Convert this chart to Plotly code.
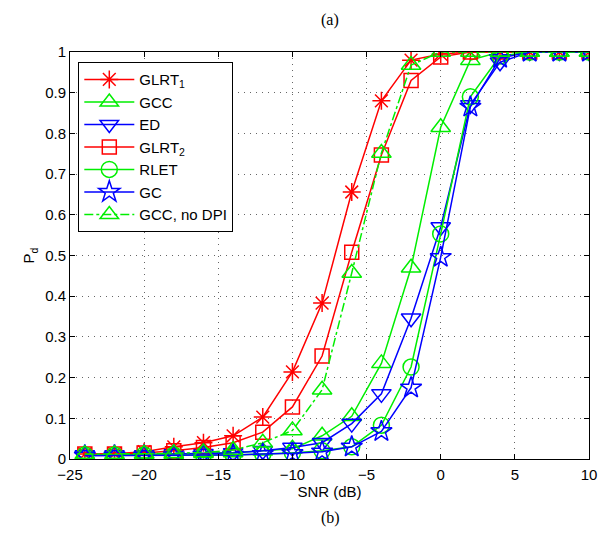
import plotly.graph_objects as go

snr = [-24, -22, -20, -18, -16, -14, -12, -10, -8, -6, -4, -2, 0, 2, 4, 6, 8, 10]

glrt1 = [0.012, 0.013, 0.018, 0.03, 0.04, 0.057, 0.103, 0.214, 0.383, 0.656, 0.88, 0.98, 0.995, 1, 1, 1, 1, 1]
gcc = [0.01, 0.01, 0.012, 0.012, 0.014, 0.016, 0.02, 0.025, 0.057, 0.105, 0.235, 0.47, 0.815, 0.98, 1, 1, 1, 1]
ed = [0.01, 0.01, 0.01, 0.012, 0.013, 0.015, 0.02, 0.028, 0.04, 0.087, 0.16, 0.346, 0.57, 0.87, 0.975, 1, 1, 1]
glrt2 = [0.012, 0.012, 0.015, 0.02, 0.028, 0.04, 0.066, 0.128, 0.253, 0.508, 0.747, 0.93, 0.988, 1, 1, 1, 1, 1]
rlet = [0.01, 0.01, 0.01, 0.01, 0.01, 0.01, 0.012, 0.015, 0.02, 0.03, 0.083, 0.226, 0.553, 0.89, 0.99, 1, 1, 1]
gc = [0.008, 0.008, 0.008, 0.009, 0.01, 0.01, 0.012, 0.014, 0.018, 0.03, 0.068, 0.175, 0.496, 0.865, 0.985, 1, 1, 1]
gcc_nodpi = [0.012, 0.012, 0.013, 0.014, 0.016, 0.022, 0.04, 0.07, 0.17, 0.457, 0.752, 0.968, 1, 1, 1, 1, 1, 1]

names = ["GLRT<sub>1</sub>", "GCC", "ED", "GLRT<sub>2</sub>", "RLET", "GC", "GCC, no DPI"]
series = [glrt1, gcc, ed, glrt2, rlet, gc, gcc_nodpi]
colors = ["#ff0000", "#00ee00", "#0000ff", "#ff0000", "#00ee00", "#0000ff", "#00ee00"]
symbols = ["asterisk-open", "triangle-up-open", "triangle-down-open", "square-open",
           "circle-open", "star-open", "triangle-up-open"]
sizes = [15, 17, 17, 14, 16, 16, 17]
dashes = ["solid", "solid", "solid", "solid", "solid", "solid", "dashdot"]

FONT = "Liberation Sans"

fig = go.Figure()
for n, y, c, s, sz, d in zip(names, series, colors, symbols, sizes, dashes):
    fig.add_trace(go.Scatter(
        x=snr, y=y, name=n, mode="lines+markers",
        line=dict(color=c, width=1.5, dash=d),
        marker=dict(symbol=s, size=sz, color=c, line=dict(color=c, width=1.5)),
    ))

axis_common = dict(
    showline=True, linecolor="black", linewidth=1, mirror="ticks",
    ticks="inside", ticklen=5, tickcolor="black",
    showgrid=True, gridcolor="#666666", griddash="1px,5px", gridwidth=1,
    zeroline=False, tickfont=dict(family=FONT, size=15, color="black"),
)

fig.update_xaxes(range=[-25, 10], dtick=5, tick0=-25, ticklabelstandoff=2,
                 title=dict(text="SNR (dB)", font=dict(family=FONT, size=15, color="black"), standoff=4),
                 **axis_common)
fig.update_yaxes(range=[0, 1], dtick=0.1, tick0=0,
                 title=dict(text="P<sub>d</sub>", font=dict(family=FONT, size=15, color="black"), standoff=6),
                 **axis_common)

fig.add_annotation(text="(a)", xref="paper", yref="paper", x=(333 - 70) / 524, y=1 + (52 - 20) / 407,
                   showarrow=False, yanchor="middle",
                   font=dict(family="Liberation Serif", size=16, color="black"))
fig.add_annotation(text="(b)", xref="paper", yref="paper", x=(333 - 70) / 524, y=-(518 - 459) / 407,
                   showarrow=False, yanchor="middle",
                   font=dict(family="Liberation Serif", size=16, color="black"))

fig.update_layout(
    width=609, height=533,
    margin=dict(l=70, r=15, t=52, b=74),
    paper_bgcolor="white", plot_bgcolor="white",
    font=dict(family=FONT, size=15, color="black"),
    legend=dict(x=0.016, y=0.975, xanchor="left", yanchor="top",
                bgcolor="white", bordercolor="black", borderwidth=1,
                font=dict(family=FONT, size=15), tracegroupgap=0, itemwidth=50),
    showlegend=True,
)

fig.write_html("out.html")
